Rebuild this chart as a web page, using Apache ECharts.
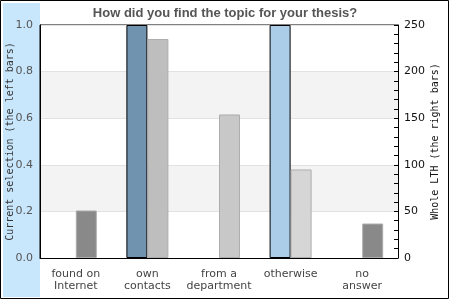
<!DOCTYPE html>
<html>
<head>
<meta charset="utf-8">
<script src="https://cdn.jsdelivr.net/npm/echarts@6/dist/echarts.min.js"></script>
<style>html,body{margin:0;padding:0;background:#fff}#c{width:450px;height:300px}</style>
</head>
<body>
<div id="c"></div>
<script>
var categories = ['found on\nInternet', 'own\ncontacts', 'from a\ndepartment', 'otherwise', 'no\nanswer'];
var currentSelection = [0, 1, 0, 1, 0];
var wholeLTH = [51, 235, 154, 95, 37];
var leftTicks = [0, 0.2, 0.4, 0.6, 0.8, 1.0];
var rightTicks = [0, 50, 100, 150, 200, 250];

var leftColors = ['#7093b0', '#7093b0', '#7093b0', '#abcde8', '#7093b0'];
var rightColors = ['#898989', '#bebebe', '#c8c8c8', '#d6d6d6', '#898989'];

var chart = echarts.init(document.getElementById('c'));
chart.setOption({
  animation: false,
  backgroundColor: '#fff',
  title: {
    text: 'How did you find the topic for your thesis?',
    left: 'center', top: 2,
    textStyle: {fontFamily: 'Liberation Sans', fontSize: 13, fontWeight: 'bold', color: '#555'}
  },
  graphic: [
    {type: 'rect', z: -10, silent: true, shape: {x: 3, y: 3, width: 37, height: 294}, style: {fill: '#c8e6fc'}},
    {type: 'rect', z: 100, silent: true, shape: {x: 0.5, y: 0.5, width: 448, height: 298}, style: {fill: 'none', stroke: '#000', lineWidth: 1}}
  ],
  grid: {left: 40, right: 52, top: 25, bottom: 42, outerBoundsMode: 'none', containLabel: false, show: true, borderColor: '#000', borderWidth: 1, backgroundColor: 'transparent'},
  xAxis: {
    type: 'category', data: categories,
    axisLine: {lineStyle: {color: '#000'}},
    axisTick: {show: false},
    axisLabel: {interval: 0, margin: 10, fontFamily: 'DejaVu Sans', fontSize: 11, color: '#444', lineHeight: 12}
  },
  yAxis: [
    {
      type: 'value', min: leftTicks[0], max: leftTicks[leftTicks.length - 1], interval: 0.2,
      name: 'Current selection (the left bars)', nameLocation: 'middle', nameGap: 25, nameMoveOverlap: false,
      nameTextStyle: {fontFamily: 'DejaVu Sans Mono', fontSize: 10, color: '#333'},
      axisLine: {show: true, lineStyle: {color: '#000'}},
      axisTick: {show: false},
      axisLabel: {margin: 7, fontFamily: 'DejaVu Sans', fontSize: 11, color: '#555', formatter: function (v) { return v.toFixed(1); }},
      splitLine: {show: true, lineStyle: {color: '#e2e2e2'}},
      splitArea: {show: true, areaStyle: {color: ['#ffffff', '#f3f3f3']}}
    },
    {
      type: 'value', min: rightTicks[0], max: rightTicks[rightTicks.length - 1], interval: 50,
      position: 'right',
      name: 'Whole LTH (the right bars)', nameLocation: 'middle', nameGap: 32, nameMoveOverlap: false,
      nameTextStyle: {fontFamily: 'DejaVu Sans Mono', fontSize: 10, color: '#111'},
      axisLine: {show: true, lineStyle: {color: '#000'}},
      axisTick: {show: true, inside: true, length: 4, lineStyle: {color: '#000'}},
      minorTick: {show: true, splitNumber: 5, length: 4, lineStyle: {color: '#000'}},
      axisLabel: {margin: 6, fontFamily: 'DejaVu Sans', fontSize: 11, color: '#111'},
      splitLine: {show: false}
    }
  ],
  series: [
    {
      type: 'bar', yAxisIndex: 0, barWidth: 21, barGap: '0%',
      data: currentSelection.map(function (v, i) {
        return {value: v, itemStyle: {color: leftColors[i], borderColor: '#000', borderWidth: v > 0 ? 1 : 0}};
      })
    },
    {
      type: 'bar', yAxisIndex: 1, barWidth: 21, barGap: '0%',
      data: wholeLTH.map(function (v, i) {
        return {value: v, itemStyle: {color: rightColors[i], borderColor: '#adadad', borderWidth: 1}};
      })
    }
  ]
});
</script>
</body>
</html>
